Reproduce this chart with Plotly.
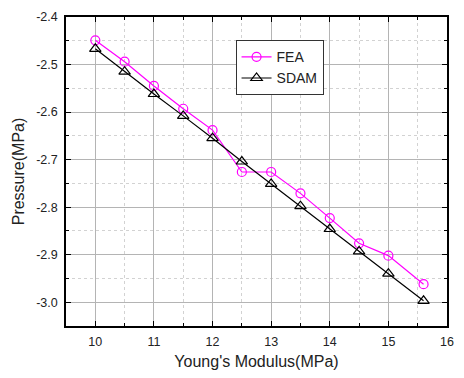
import plotly.graph_objects as go

x_vals = [10, 10.5, 11, 11.5, 12, 12.5, 13, 13.5, 14, 14.5, 15, 15.6]
fea = [-2.449, -2.494, -2.545, -2.593, -2.638, -2.726, -2.726, -2.771, -2.823, -2.876, -2.902, -2.962]
sdam = [-2.467, -2.515, -2.562, -2.608, -2.655, -2.704, -2.751, -2.798, -2.846, -2.893, -2.940, -2.997]

x_ticks = [10, 11, 12, 13, 14, 15, 16]
x_labels = ["10", "11", "12", "13", "14", "15", "16"]
y_ticks = [-3.0, -2.9, -2.8, -2.7, -2.6, -2.5, -2.4]
y_labels = ["-3.0", "-2.9", "-2.8", "-2.7", "-2.6", "-2.5", "-2.4"]

fig = go.Figure()
fig.add_trace(go.Scatter(x=x_vals, y=fea, name="FEA", mode="lines+markers",
                         line=dict(color="#ff00ff", width=1.2),
                         marker=dict(symbol="circle-open", size=9, color="#ff00ff", line=dict(width=1.2))))
fig.add_trace(go.Scatter(x=x_vals, y=sdam, name="SDAM", mode="lines+markers",
                         line=dict(color="black", width=1.2),
                         marker=dict(symbol="triangle-up-open", size=10, color="black", line=dict(width=1.2))))

axis_common = dict(
    showline=True, linecolor="black", linewidth=1.5, mirror="allticks",
    ticks="inside", ticklen=5, tickcolor="black", tickwidth=1.2,
    showgrid=True, gridcolor="#b4b4b4", gridwidth=1,
    zeroline=False, automargin=True,
    tickfont=dict(family="Liberation Sans, Arial", size=12.5, color="#222"),
    ticklabeloverflow="allow",
)

fig.update_xaxes(range=[9.5, 16], tickmode="array", tickvals=x_ticks, ticktext=x_labels,
                 ticklabelstandoff=3,
                 title=dict(text="Young's Modulus(MPa)", standoff=8,
                            font=dict(family="Liberation Sans, Arial", size=16, color="#222")),
                 minor=dict(dtick=0.5, tick0=10, showgrid=True, gridcolor="#d2d2d2", griddash="dot", gridwidth=1,
                            ticks="inside", ticklen=3, tickcolor="black"),
                 **axis_common)
fig.update_yaxes(range=[-3.05, -2.4], tickmode="array", tickvals=y_ticks, ticktext=y_labels,
                 ticklabelstandoff=4,
                 title=dict(text="Pressure(MPa)", standoff=8,
                            font=dict(family="Liberation Sans, Arial", size=16, color="#222")),
                 minor=dict(dtick=0.05, tick0=-3.0, showgrid=True, gridcolor="#d2d2d2", griddash="dot", gridwidth=1,
                            ticks="inside", ticklen=3, tickcolor="black"),
                 **axis_common)

fig.update_layout(
    width=464, height=378,
    margin=dict(l=66, r=10, t=16, b=50),
    paper_bgcolor="white", plot_bgcolor="white",
    legend=dict(x=0.445, y=0.925, xanchor="left", yanchor="top",
                bgcolor="white", bordercolor="#333", borderwidth=1,
                font=dict(family="Liberation Sans, Arial", size=14, color="#222"),
                tracegroupgap=0, itemwidth=30),
    showlegend=True,
)

fig.write_html("out.html", config={"displayModeBar": False},
               post_script="document.body.style.margin='0';")
